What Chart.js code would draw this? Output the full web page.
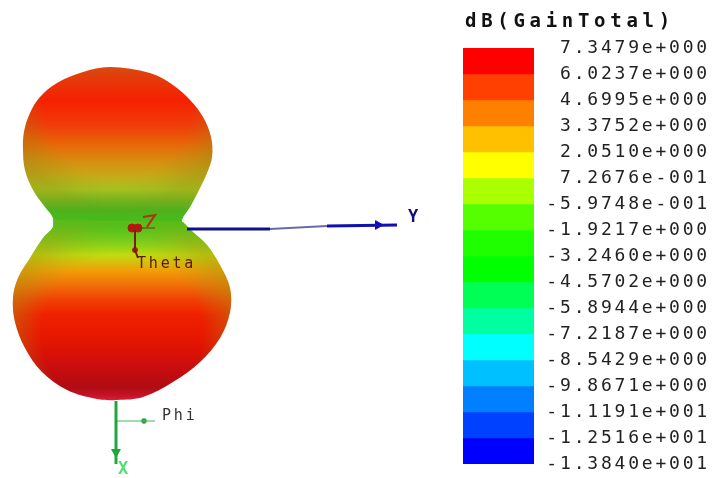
<!DOCTYPE html>
<html>
<head>
<meta charset="utf-8">
<title>dB(GainTotal)</title>
<script src="https://cdn.jsdelivr.net/npm/chart.js@4/dist/chart.umd.min.js"></script>
<style>
  html, body { margin: 0; padding: 0; background: #fff; }
  canvas { position: absolute; top: 0; filter: blur(0.5px); }
  #patternChart { left: 0; }
  #scaleChart { left: 440px; }
</style>
</head>
<body>
<canvas id="patternChart" width="440" height="478"></canvas>
<canvas id="scaleChart" width="277" height="478"></canvas>
<script>
// colour scale
const scaleTitle = "dB(GainTotal)";
const tickValues = [7.3479, 6.0237, 4.6995, 3.3752, 2.051, 0.72676, -0.59748, -1.9217, -3.246, -4.5702, -5.8944, -7.2187, -8.5429, -9.8671, -11.191, -12.516, -13.84];
const tickLabels = ["7.3479e+000", "6.0237e+000", "4.6995e+000", "3.3752e+000", "2.0510e+000", "7.2676e-001", "-5.9748e-001", "-1.9217e+000", "-3.2460e+000", "-4.5702e+000", "-5.8944e+000", "-7.2187e+000", "-8.5429e+000", "-9.8671e+000", "-1.1191e+001", "-1.2516e+001", "-1.3840e+001"];
const bandColors = ["#ff0000", "#ff4000", "#ff8000", "#ffc000", "#ffff00", "#aaff00", "#55ff00", "#20ff00", "#00ff00", "#00ff55", "#00ffa0", "#00ffff", "#00c0ff", "#0080ff", "#0040ff", "#0000ff"];

// pattern outline, units measured from the origin of the axes
const upperLobeX = [-82, -82, -90, -102, -110, -112, -111, -105, -95, -78, -52, -25, 15, 38, 55, 68, 76, 77, 72, 63, 55, 47, 48];
const upperLobeY = [-2, 10, 21, 38, 58, 78, 96, 115, 131, 145, 156, 161, 155, 143, 128, 111, 91, 71, 55, 36, 21, 8, -2];
const lowerLobeX = [-82, -82, -92, -105, -117, -122, -120, -110, -93, -68, -38, -18, 8, 38, 65, 85, 95, 95, 85, 72, 58, 48];
const lowerLobeY = [8, 1, -10, -30, -50, -70, -94, -120, -144, -162, -171, -172, -169, -154, -134, -110, -84, -60, -37, -17, -4, 6];

// surface colour by height
const upperShadeY = [161, 148, 128, 103, 83, 68, 53, 38, 28, 18, 6];
const upperShadeColors = ["#d84a10", "#e83808", "#f52000", "#f03c08", "#e86808", "#d88a10", "#c8a818", "#a8c820", "#70c020", "#30c420", "#20d820"];
const lowerShadeY = [3, -10, -27, -42, -57, -72, -87, -107, -127, -147, -160, -168, -172];
const lowerShadeColors = ["#20d820", "#60d820", "#c0dc10", "#f0a008", "#f07008", "#f04004", "#f02000", "#e81800", "#d81008", "#c00c10", "#b00c14", "#c81428", "#d82038"];

// axes of the plot
const yAxisX = [52, 135];
const yAxisY = [-1, -1];
const yAxisMidX = [135, 192];
const yAxisMidY = [-1, 2];
const yAxisEndX = [192, 262];
const yAxisEndY = [2, 3];
const xAxisX = [-19, -19];
const xAxisY = [-173, -236];
const phiX = [-19, 20];
const phiY = [-193, -193];
const thetaX = [0, 0, 3];
const thetaY = [-2, -22, -30];
const zAxisX = [-7, 20];
const zAxisY = [0, 0];
const zGlyphX = [8, 20, 12];
const zGlyphY = [11, 13, 1];

const labelNames = ["Y", "X", "Theta", "Phi"];
const labelX = [273, -17, 2, 27];
const labelY = [10, -242, -36, -188];
const labelColors = ["#10107a", "#50e070", "#5a1a10", "#333333"];
const labelBold = [true, true, false, false];

function lineSet(xs, ys, color, width) {
  return {
    data: xs.map((x, i) => ({ x, y: ys[i] })),
    showLine: true,
    borderColor: color,
    borderWidth: width,
    pointRadius: 0,
    tension: 0,
    clip: false,
  };
}

function markerSet(x, y, color, style, radius, rotation) {
  return {
    data: [{ x, y }],
    showLine: false,
    pointStyle: style,
    pointRadius: radius,
    rotation: rotation,
    backgroundColor: color,
    borderColor: color,
    borderWidth: 1,
    clip: false,
  };
}

function verticalFill(ys, colors) {
  return ctx => {
    const chart = ctx.chart;
    if (!chart.chartArea) return "transparent";
    const sy = chart.scales.y;
    const y0 = sy.getPixelForValue(ys[0]);
    const y1 = sy.getPixelForValue(ys[ys.length - 1]);
    if (!isFinite(y0) || !isFinite(y1)) return "transparent";
    const g = chart.ctx.createLinearGradient(0, y0, 0, y1);
    ys.forEach((v, i) => g.addColorStop((sy.getPixelForValue(v) - y0) / (y1 - y0), colors[i]));
    return g;
  };
}

function edgeFill(cx, cy, r, from, color, alpha) {
  return ctx => {
    const chart = ctx.chart;
    if (!chart.chartArea) return "transparent";
    const px = chart.scales.x.getPixelForValue(cx);
    const py = chart.scales.y.getPixelForValue(cy);
    if (!isFinite(px) || !isFinite(py)) return "transparent";
    const g = chart.ctx.createRadialGradient(px, py, 0, px, py, r);
    g.addColorStop(0, "rgba(" + color + ",0)");
    g.addColorStop(from, "rgba(" + color + ",0)");
    g.addColorStop(1, "rgba(" + color + "," + alpha + ")");
    return g;
  };
}

// the line has to keep a width, the curve control points are not set without one
function lobeSet(xs, ys, fill) {
  return {
    data: xs.map((x, i) => ({ x, y: ys[i] })),
    showLine: true,
    fill: "shape",
    backgroundColor: fill,
    borderWidth: 1,
    borderColor: "transparent",
    pointRadius: 0,
    tension: 0.35,
    clip: false,
  };
}

// first dataset is painted last, so marks go first and the lobes at the end
const patternSets = [
  lineSet(yAxisX, yAxisY, "#10108a", 3),
  lineSet(yAxisMidX, yAxisMidY, "#6a6aa8", 2),
  lineSet(yAxisEndX, yAxisEndY, "#1010b0", 3),
  markerSet(243, 3, "#0a0ac8", "triangle", 5, 90),
  lineSet(xAxisX, xAxisY, "#20a840", 3),
  markerSet(-19, -224, "#18a838", "triangle", 5, 180),
  lineSet(phiX, phiY, "#40b860", 1),
  markerSet(9, -193, "#30a050", "rectRounded", 2.5, 0),
  lineSet(thetaX, thetaY, "#7a2010", 2),
  markerSet(0, -22, "#a02010", "circle", 2.5, 0),
  lineSet(zAxisX, zAxisY, "#6a3a10", 1),
  lineSet(zGlyphX, zGlyphY, "#b03010", 2),
  markerSet(-3, 0, "#c01010", "circle", 4, 0),
  markerSet(3, 0, "#c01010", "circle", 4, 0),
  lobeSet(lowerLobeX, lowerLobeY, edgeFill(-13, -107, 115, 0.7, "170,150,15", 0.45)),
  lobeSet(lowerLobeX, lowerLobeY, verticalFill(lowerShadeY, lowerShadeColors)),
  lobeSet(upperLobeX, upperLobeY, edgeFill(-17, 123, 105, 0.7, "140,140,20", 0.35)),
  lobeSet(upperLobeX, upperLobeY, verticalFill(upperShadeY, upperShadeColors)),
];

const axisLabels = {
  id: "axisLabels",
  afterDatasetsDraw(chart) {
    const c = chart.ctx;
    c.save();
    c.textBaseline = "middle";
    labelNames.forEach((name, i) => {
      c.font = (labelBold[i] ? "bold 17px" : "15px") + " 'DejaVu Sans Mono'";
      c.letterSpacing = labelBold[i] ? "0px" : "2.8px";
      c.fillStyle = labelColors[i];
      c.fillText(name, chart.scales.x.getPixelForValue(labelX[i]), chart.scales.y.getPixelForValue(labelY[i]));
    });
    c.restore();
  },
};

new Chart(document.getElementById("patternChart"), {
  type: "scatter",
  data: { datasets: patternSets },
  plugins: [axisLabels],
  options: {
    responsive: false,
    animation: false,
    layout: { padding: 0, autoPadding: false },
    plugins: { legend: { display: false }, tooltip: { enabled: false } },
    scales: {
      x: { type: "linear", min: -135, max: 305, display: false },
      y: { type: "linear", min: -250, max: 228, display: false },
    },
  },
});

// wide bitmap look of the legend text
const spacedText = {
  id: "spacedText",
  beforeDraw(chart) {
    chart.ctx.letterSpacing = "2.8px";
  },
  afterDraw(chart) {
    const c = chart.ctx;
    c.save();
    c.letterSpacing = "4.7px";
    c.font = "bold 19px 'DejaVu Sans Mono'";
    c.fillStyle = "#111111";
    c.textAlign = "left";
    c.textBaseline = "middle";
    c.fillText(scaleTitle, 25, 22);
    c.restore();
  },
};

const bandSets = bandColors.map((color, i) => ({
  data: [[tickValues[i + 1], tickValues[i]]],
  backgroundColor: color,
  borderWidth: 0,
  barPercentage: 1,
  categoryPercentage: 1,
  grouped: false,
}));

new Chart(document.getElementById("scaleChart"), {
  type: "bar",
  data: { labels: [scaleTitle], datasets: bandSets },
  plugins: [spacedText],
  options: {
    responsive: false,
    animation: false,
    layout: { padding: { left: 23, right: 7, top: 48, bottom: 14 } },
    plugins: {
      legend: { display: false },
      tooltip: { enabled: false },
    },
    scales: {
      x: { display: false },
      y: {
        position: "right",
        min: tickValues[tickValues.length - 1],
        max: tickValues[0],
        border: { display: false },
        grid: { display: false },
        afterBuildTicks: axis => {
          axis.ticks = tickValues.map(value => ({ value }));
        },
        afterFit: axis => {
          axis.width = 176;
        },
        ticks: {
          autoSkip: false,
          crossAlign: "far",
          padding: 0,
          color: "#222222",
          font: { family: "'DejaVu Sans Mono'", size: 18 },
          callback: (value, i) => tickLabels[i],
        },
      },
    },
  },
});
</script>
</body>
</html>
